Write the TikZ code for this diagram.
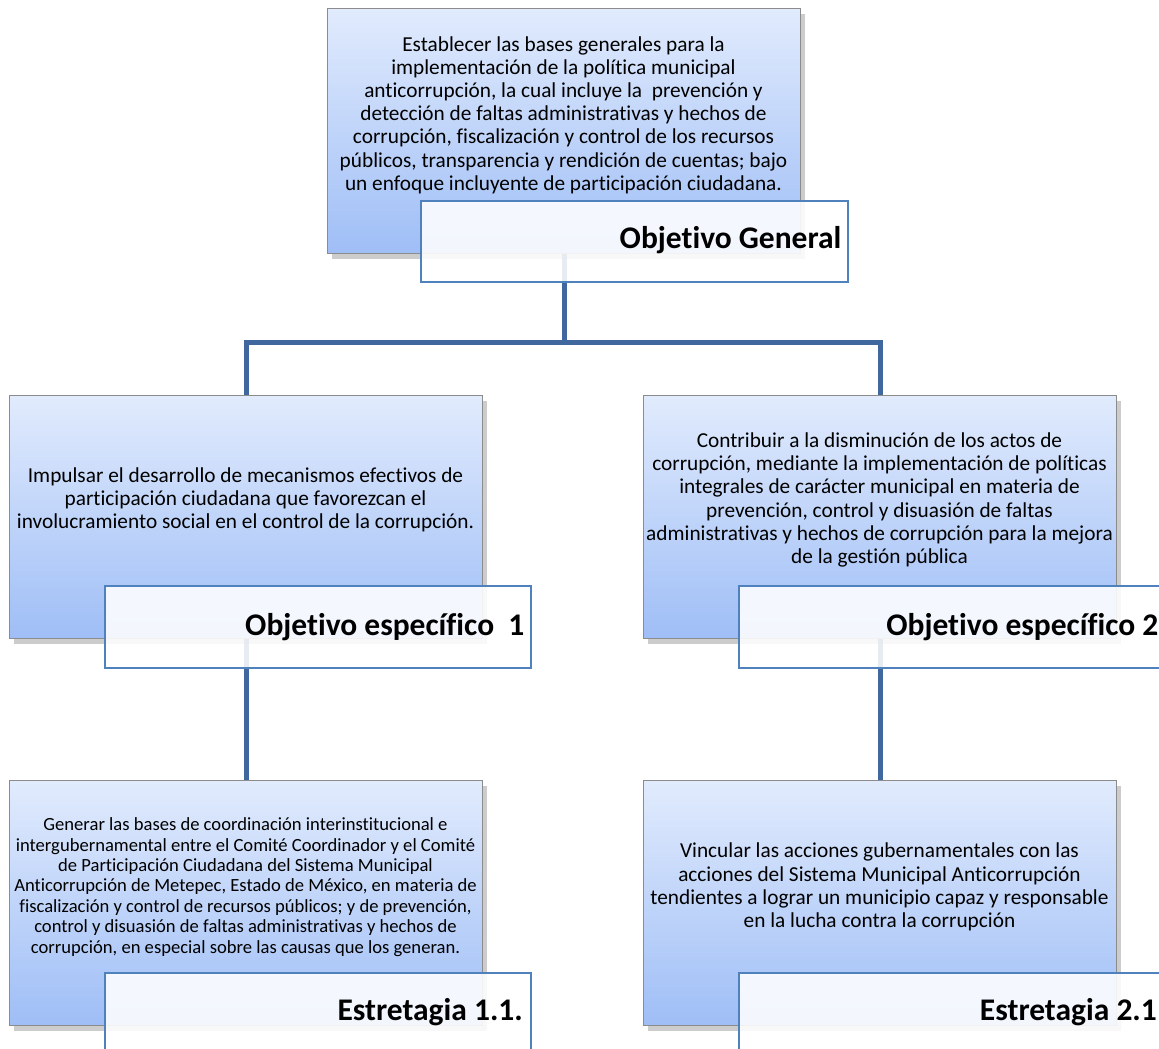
\documentclass[tikz,border=0pt]{standalone}
\usepackage{fontspec}
\setmainfont{Carlito}[Ligatures={NoCommon}]
\usetikzlibrary{shadows}
\pgfdeclarelayer{bg}
\pgfsetlayers{bg,main}
\definecolor{boxtop}{HTML}{E1EBFD}
\definecolor{boxbot}{HTML}{9FBEF6}
\definecolor{boxline}{HTML}{8C8C8C}
\definecolor{lblblue}{HTML}{4F81BD}
\definecolor{conn}{HTML}{41679F}
\tikzset{
 mainbox/.style={draw=boxline, line width=1.3pt, top color=boxtop, bottom color=boxbot, anchor=north west, minimum width=473pt, minimum height=245pt, inner sep=0pt,
   drop shadow={shadow xshift=4pt, shadow yshift=-5pt, opacity=0.25, fill=black!80}},
 lblbox/.style={draw=lblblue, line width=1.6pt, fill=white, fill opacity=0.88, text opacity=1, anchor=north west, minimum width=426pt, minimum height=82pt, inner sep=0pt},
 headtxt/.style={font=\fontsize{31.5}{34}\selectfont\bfseries, anchor=east, inner sep=0pt},
 bodytxt/.style={font=\fontsize{21.3}{23.2}\selectfont, align=center, inner sep=0pt},
 smalltxt/.style={font=\fontsize{18.6}{20.4}\selectfont, align=center, inner sep=0pt},
 conline/.style={draw=conn, line width=5pt}
}
\begin{document}
\begin{tikzpicture}[x=1pt,y=-1pt]
\useasboundingbox (0,0) rectangle (1159,1049);
\clip (0,0) rectangle (1159,1049);
% boxes
\node[mainbox] (g) at (327,8) {};
\node[mainbox, minimum height=243pt] (o1) at (9,395) {};
\node[mainbox, minimum height=243pt] (o2) at (643,395) {};
\node[mainbox] (s1) at (9,780) {};
\node[mainbox] (s2) at (643,780) {};
% texts
\node[bodytxt] (gt) at (563.5,115) {Establecer las bases generales para la\\implementación de la política municipal\\anticorrupción, la cual incluye la~ prevención y\\detección de faltas administrativas y hechos de\\corrupción, fiscalización y control de los recursos\\públicos, transparencia y rendición de cuentas; bajo\\un enfoque incluyente de participación ciudadana.};
\node[bodytxt] (o1t) at (245.5,500) {Impulsar el desarrollo de mecanismos efectivos de\\participación ciudadana que favorezcan el\\involucramiento social en el control de la corrupción.};
\node[bodytxt] (o2t) at (879.5,500) {Contribuir a la disminución de los actos de\\corrupción, mediante la implementación de políticas\\integrales de carácter municipal en materia de\\prevención, control y disuasión de faltas\\administrativas y hechos de corrupción para la mejora\\de la gestión pública};
\node[smalltxt] (s1t) at (245.5,887) {Generar las bases de coordinación interinstitucional e\\intergubernamental entre el Comité Coordinador y el Comité\\de Participación Ciudadana del Sistema Municipal\\Anticorrupción de Metepec, Estado de México, en materia de\\fiscalización y control de recursos públicos; y de prevención,\\control y disuasión de faltas administrativas y hechos de\\corrupción, en especial sobre las causas que los generan.};
\node[bodytxt] (s2t) at (879.5,887) {Vincular las acciones gubernamentales con las\\acciones del Sistema Municipal Anticorrupción\\tendientes a lograr un municipio capaz y responsable\\en la lucha contra la corrupción};
% label boxes
\node[lblbox, minimum width=427pt, minimum height=81pt] (gl) at (420,200) {};
\node[lblbox] (o1l) at (104,585) {};
\node[lblbox] (o2l) at (738,585) {};
\node[lblbox] (s1l) at (104,972) {};
\node[lblbox] (s2l) at (738,972) {};
\node[headtxt] (glt) at ([xshift=-7pt,yshift=1pt]gl.east) {Objetivo General};
\node[headtxt] (o1lt) at ([xshift=-7pt]o1l.east) {Objetivo específico~ 1};
\node[headtxt] (o2lt) at ([xshift=-7pt]o2l.east) {Objetivo específico 2};
\node[headtxt] (s1lx) at ([xshift=-7pt]530,1012) {Estretagia 1.1.};
\node[headtxt] (s2lx) at ([xshift=-7pt]1164,1012) {Estretagia 2.1};
% connectors
\begin{pgfonlayer}{bg}
\draw[conline] (g.south) -- ++(0,88) -| (o1.north);
\draw[conline] (g.south) -- ++(0,88) -| (o2.north);
\draw[conline] (o1.south) -- (s1.north);
\draw[conline] (o2.south) -- (s2.north);
\end{pgfonlayer}
\end{tikzpicture}
\end{document}
